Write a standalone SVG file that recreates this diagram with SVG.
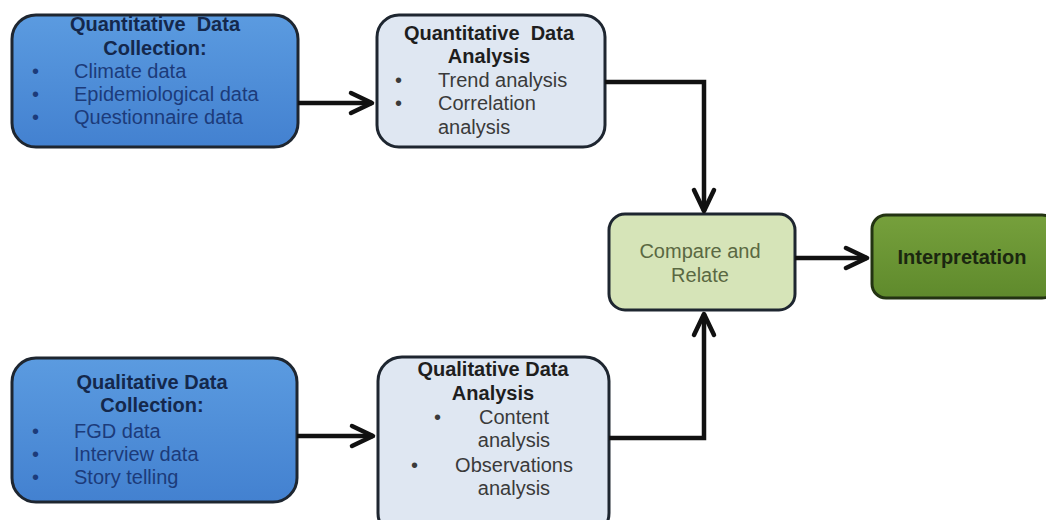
<svg xmlns="http://www.w3.org/2000/svg" width="1046" height="520" viewBox="0 0 1046 520">
  <defs>
    <linearGradient id="blueFill" x1="0" y1="0" x2="0" y2="1">
      <stop offset="0" stop-color="#5b9be0"/>
      <stop offset="1" stop-color="#4381d0"/>
    </linearGradient>
    <linearGradient id="greenFill" x1="0" y1="0" x2="0" y2="1">
      <stop offset="0" stop-color="#76a03c"/>
      <stop offset="1" stop-color="#5f8a2c"/>
    </linearGradient>
    <marker id="chevron" markerUnits="userSpaceOnUse" viewBox="-24 -13 28 26" refX="0" refY="0" markerWidth="28" markerHeight="26" orient="auto">
      <path d="M-21,-10 L0,0 L-21,10" fill="none" stroke="#111" stroke-width="4.5" stroke-linejoin="round" stroke-linecap="round"/>
    </marker>
    <style>
      .box { stroke: #1e2630; stroke-width: 3; }
      .collect { fill: url(#blueFill); }
      .analysis { fill: #dfe7f2; }
      .compare { fill: #d6e4b8; }
      .interp { fill: url(#greenFill); stroke: #233312; }
      text { font-family: "Liberation Sans", Arial, sans-serif; font-size: 20px; }
      .ttl { font-weight: bold; text-anchor: middle; }
      .navy { fill: #14284c; }
      .blue { fill: #1c3b7a; }
      .dark { fill: #1e1e1e; }
      .grey { fill: #3a3a3a; }
      .olive { fill: #5a6842; }
      .mid { text-anchor: middle; }
      .conn { fill: none; stroke: #111; stroke-width: 4.5; stroke-linejoin: miter; }
    </style>
  </defs>

  <rect width="1046" height="520" fill="#ffffff"/>

  <!-- Quantitative data collection -->
  <g id="quant-collection">
    <rect class="box collect" x="12" y="15" width="286" height="132" rx="24"/>
    <text class="ttl navy" x="155" y="31">Quantitative&#160; Data</text>
    <text class="ttl navy" x="155" y="55">Collection:</text>
    <text class="blue" x="32" y="78">•</text>
    <text class="blue" x="74" y="78">Climate data</text>
    <text class="blue" x="32" y="101">•</text>
    <text class="blue" x="74" y="101">Epidemiological data</text>
    <text class="blue" x="32" y="124">•</text>
    <text class="blue" x="74" y="124">Questionnaire data</text>
  </g>

  <!-- Quantitative data analysis -->
  <g id="quant-analysis">
    <rect class="box analysis" x="377" y="15" width="228" height="132" rx="22"/>
    <text class="ttl dark" x="489" y="40">Quantitative&#160; Data</text>
    <text class="ttl dark" x="489" y="63">Analysis</text>
    <text class="grey" x="395" y="87">•</text>
    <text class="grey" x="438" y="87">Trend analysis</text>
    <text class="grey" x="395" y="110">•</text>
    <text class="grey" x="438" y="110">Correlation</text>
    <text class="grey" x="438" y="134">analysis</text>
  </g>

  <!-- Compare and relate -->
  <g id="compare-relate">
    <rect class="box compare" x="609" y="214" width="186" height="96" rx="16"/>
    <text class="olive mid" x="700" y="258">Compare and</text>
    <text class="olive mid" x="700" y="282">Relate</text>
  </g>

  <!-- Interpretation -->
  <g id="interpretation">
    <rect class="box interp" x="872" y="215" width="184" height="83" rx="14"/>
    <text class="ttl" fill="#1b2710" x="962" y="264">Interpretation</text>
  </g>

  <!-- Qualitative data collection -->
  <g id="qual-collection">
    <rect class="box collect" x="12" y="358" width="285" height="144" rx="24"/>
    <text class="ttl navy" x="152" y="389">Qualitative Data</text>
    <text class="ttl navy" x="152" y="412">Collection:</text>
    <text class="blue" x="32" y="438">•</text>
    <text class="blue" x="74" y="438">FGD data</text>
    <text class="blue" x="32" y="461">•</text>
    <text class="blue" x="74" y="461">Interview data</text>
    <text class="blue" x="32" y="484">•</text>
    <text class="blue" x="74" y="484">Story telling</text>
  </g>

  <!-- Qualitative data analysis -->
  <g id="qual-analysis">
    <rect class="box analysis" x="378" y="357" width="231" height="180" rx="24"/>
    <text class="ttl dark" x="493" y="376">Qualitative Data</text>
    <text class="ttl dark" x="493" y="400">Analysis</text>
    <text class="grey" x="434" y="424">•</text>
    <text class="grey mid" x="514" y="424">Content</text>
    <text class="grey mid" x="514" y="447">analysis</text>
    <text class="grey" x="411" y="472">•</text>
    <text class="grey mid" x="514" y="472">Observations</text>
    <text class="grey mid" x="514" y="495">analysis</text>
  </g>

  <!-- Connectors -->
  <g id="connectors">
    <path class="conn" d="M298,103 L372,103" marker-end="url(#chevron)"/>
    <path class="conn" d="M605,82 L704,82 L704,211" marker-end="url(#chevron)"/>
    <path class="conn" d="M609,438 L704,438 L704,314" marker-end="url(#chevron)"/>
    <path class="conn" d="M795,258 L867,258" marker-end="url(#chevron)"/>
    <path class="conn" d="M297,436 L373,436" marker-end="url(#chevron)"/>
  </g>
</svg>
